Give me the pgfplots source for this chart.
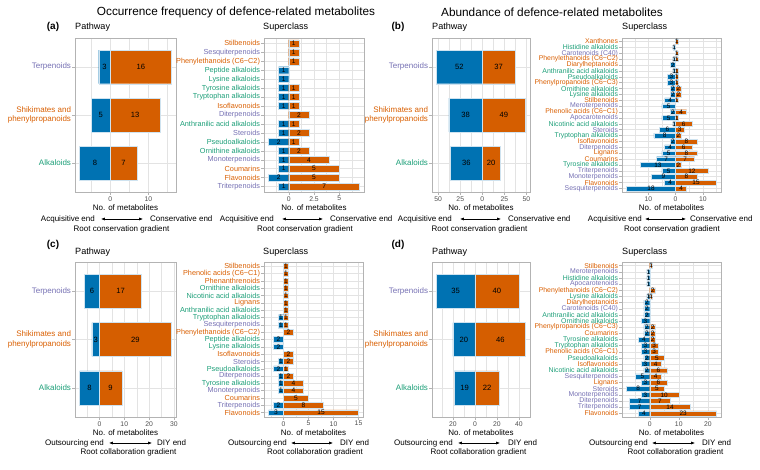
\documentclass[border=0pt]{standalone}
\usepackage{fontspec}
\setmainfont{Liberation Sans}
\usepackage{pgfplots}
\pgfplotsset{compat=1.18}
\usepackage{pgfplotstable}
\usetikzlibrary{arrows.meta}

\definecolor{cblue}{HTML}{0072B2}
\definecolor{corange}{HTML}{D55E00}
\definecolor{cP}{HTML}{7570B3}
\definecolor{cG}{HTML}{1B9E77}
\definecolor{cO}{HTML}{D95F02}
\definecolor{gr70}{HTML}{B3B3B3}
\definecolor{gr87}{HTML}{E3E3E3}
\definecolor{gr30}{HTML}{4D4D4D}
\definecolor{outl}{HTML}{CFE3F0}

\newcommand{\LP}[1]{\textcolor{cP}{#1}}
\newcommand{\LG}[1]{\textcolor{cG}{#1}}
\newcommand{\LO}[1]{\textcolor{cO}{#1}}

% Pathway tables
\pgfplotstableread{
y neg pos
1 3 16
2 5 13
3 8 7
}\tAP
\pgfplotstableread{
y neg pos
1 52 37
2 38 49
3 36 20
}\tBP
\pgfplotstableread{
y neg pos
1 6 17
2 3 29
3 8 9
}\tCP
\pgfplotstableread{
y neg pos
1 35 40
2 20 46
3 19 22
}\tDP

% Superclass tables
\pgfplotstableread{
y neg pos
1 0 1
2 0 1
3 0 1
4 1 0
5 1 0
6 1 1
7 1 1
8 1 1
9 0 2
10 1 1
11 1 2
12 2 1
13 1 2
14 1 4
15 1 5
16 2 5
17 1 7
}\tAS
\pgfplotstableread{
y neg pos
1 0 1
2 1 0
3 0 1
4 1 1
5 2 0
6 1 1
7 3 1
8 3 1
9 2 2
10 2 2
11 4 1
12 5 0
13 2 4
14 5 1
15 1 6
16 6 3
17 8 2
18 2 8
19 4 6
20 5 8
21 7 7
22 13 2
23 5 12
24 9 8
25 4 15
26 18 4
}\tBS
\pgfplotstableread{
y neg pos
1 0 1
2 0 1
3 0 1
4 0 1
5 0 1
6 0 1
7 0 1
8 1 1
9 1 1
10 0 2
11 2 0
12 2 0
13 0 2
14 1 2
15 2 1
16 1 2
17 1 4
18 1 4
19 0 5
20 2 8
21 3 15
}\tCS
\pgfplotstableread{
y neg pos
1 0 1
2 1 0
3 1 0
4 1 0
5 0 2
6 1 1
7 2 0
8 2 0
9 2 0
10 3 0
11 2 2
12 2 2
13 4 2
14 3 3
15 3 3
16 2 5
17 3 4
18 2 6
19 5 4
20 3 6
21 8 5
22 3 10
23 7 7
24 7 14
25 4 23
}\tDS

\pgfplotsset{
  base/.style={
    scale only axis, anchor=north west,
    y dir=reverse,
    axis line style={draw=gr70, line width=0.5pt},
    tick style={draw=gr70, line width=0.45pt},
    major tick length=2.6pt, minor tick length=0pt,
    tick align=outside, tick pos=left,
    xmajorgrids, xminorgrids, ymajorgrids,
    major grid style={draw=gr87, line width=0.5pt},
    minor grid style={draw=gr87, line width=0.3pt},
    xticklabel style={font=\fontsize{6.8}{7.5}\selectfont, text=gr30, inner sep=1.5pt},
    yticklabel style={inner sep=1.2pt},
    /pgf/number format/assume math mode=true,
    xlabel={No. of metabolites},
    xlabel style={font=\fontsize{8}{9.5}\selectfont, text=black, inner sep=1.5pt},
  },
  pathway/.style={base, ymin=0.4, ymax=3.6, ytick={1,2,3},
    yticklabels={\LP{Terpenoids},{\color{cO}Shikimates and\\\color{cO}phenylpropanoids},\LG{Alkaloids}},
    yticklabel style={font=\fontsize{8}{9.8}\selectfont, align=right}},
  superclass/.style={base,
    yticklabel style={font=\fontsize{7.3}{8}\selectfont}},
  superclassdense/.style={base,
    yticklabel style={font=\fontsize{6.9}{7.5}\selectfont}},
}

\newcommand{\panelbars}[3]{%
  \addplot[xbar, bar width=#2, bar shift=0pt, fill=cblue, draw=outl, line width=0.4pt,
    restrict x to domain=-1000:-0.001] table[x expr=-\thisrow{neg}, y=y] {#1};
  \addplot[xbar, bar width=#2, bar shift=0pt, fill=corange, draw=outl, line width=0.4pt,
    restrict x to domain=0.001:1000] table[x=pos, y=y] {#1};
  \addplot[only marks, mark=*, mark size=0pt, mark options={draw=none,fill=none},
    point meta=explicit, nodes near coords,
    every node near coord/.append style={font=\fontsize{#3}{#3}\selectfont, anchor=center, inner sep=0pt, text=black},
    restrict x to domain=-1000:-0.001] table[x expr=-\thisrow{neg}/2, y=y, meta=neg] {#1};
  \addplot[only marks, mark=*, mark size=0pt, mark options={draw=none,fill=none},
    point meta=explicit, nodes near coords,
    every node near coord/.append style={font=\fontsize{#3}{#3}\selectfont, anchor=center, inner sep=0pt, text=black},
    restrict x to domain=0.001:1000] table[x expr=\thisrow{pos}/2, y=y, meta=pos] {#1};
}

\newcommand{\gradient}[7]{% y-line, x-east, x1, x2, x-west, left text, right text
  \node[anchor=east, inner sep=0pt, font=\fontsize{8}{9.5}\selectfont] at (#2,#1) {#6};
  \draw[line width=0.6pt, {Latex[length=3.8pt,width=3pt]}-{Latex[length=3.8pt,width=3pt]}] (#3,#1) -- (#4,#1);
  \node[anchor=west, inner sep=0pt, font=\fontsize{8}{9.5}\selectfont] at (#5,#1) {#7};
}

\begin{document}
\begin{tikzpicture}[x=1pt,y=1pt]
\path[use as bounding box] (0,0) rectangle (760,470);

% Titles
\node[font=\fontsize{11.8}{13}\selectfont] at (236,458) {Occurrence frequency of defence-related metabolites};
\node[font=\fontsize{11.8}{13}\selectfont] at (552,458) {Abundance of defence-related metabolites};

\node[font=\fontsize{10}{12}\selectfont\bfseries] at (53,443) {(a)};
\node[font=\fontsize{10}{12}\selectfont\bfseries] at (398,443) {(b)};
\node[font=\fontsize{10}{12}\selectfont\bfseries] at (53,225) {(c)};
\node[font=\fontsize{10}{12}\selectfont\bfseries] at (398,225) {(d)};

\foreach \xx/\yy/\txt in {75/443/Pathway, 263/443/Superclass, 432/443/Pathway, 622/443/Superclass,
                          75/218/Pathway, 263/218/Superclass, 432/218/Pathway, 622/218/Superclass}{
  \node[anchor=west, inner sep=0pt, font=\fontsize{9.1}{11}\selectfont] at (\xx,\yy) {\txt};
}

% ---------- (a) Pathway
\begin{axis}[pathway, at={(75pt,432pt)}, width=101pt, height=154pt,
  xmin=-9.2, xmax=17.2, xtick={0,10}, minor xtick={-5,5,15}]
\panelbars{\tAP}{0.7}{7.6}
\end{axis}

% ---------- (a) Superclass
\begin{axis}[superclass, at={(264pt,432pt)}, width=100pt, height=154pt,
  xmin=-2.45, xmax=7.45, ymin=0.4, ymax=17.6,
  xtick={0,2.5,5}, xticklabels={0,2.5,5}, minor xtick={-1.25,1.25,3.75,6.25},
  ytick={1,...,17},
  yticklabels={\LO{Stilbenoids},\LP{Sesquiterpenoids},\LO{Phenylethanoids (C6−C2)},\LG{Peptide alkaloids},\LG{Lysine alkaloids},\LG{Tyrosine alkaloids},\LG{Tryptophan alkaloids},\LO{Isoflavonoids},\LP{Diterpenoids},\LG{Anthranilic acid alkaloids},\LP{Steroids},\LG{Pseudoalkaloids},\LG{Ornithine alkaloids},\LP{Monoterpenoids},\LO{Coumarins},\LO{Flavonoids},\LP{Triterpenoids}}]
\panelbars{\tAS}{0.78}{6.6}
\end{axis}

% ---------- (b) Pathway
\begin{axis}[pathway, at={(432pt,432pt)}, width=98pt, height=154pt,
  xmin=-57.05, xmax=54.05, xtick={-50,-25,0,25,50}, xticklabels={50,25,0,25,50},
  minor xtick={-37.5,-12.5,12.5,37.5}]
\panelbars{\tBP}{0.7}{7.6}
\end{axis}

% ---------- (b) Superclass
\begin{axis}[superclassdense, at={(622pt,432pt)}, width=99pt, height=154pt,
  xmin=-19.65, xmax=16.65, ymin=0.4, ymax=26.6,
  xtick={-10,0,10}, xticklabels={10,0,10}, minor xtick={-15,-5,5,15},
  ytick={1,...,26},
  yticklabels={\LO{Xanthones},\LG{Histidine alkaloids},\LP{Carotenoids (C40)},\LO{Phenylethanoids (C6−C2)},\LO{Diarylheptanoids},\LG{Anthranilic acid alkaloids},\LG{Pseudoalkaloids},\LO{Phenylpropanoids (C6−C3)},\LG{Ornithine alkaloids},\LG{Lysine alkaloids},\LO{Stilbenoids},\LP{Meroterpenoids},\LO{Phenolic acids (C6−C1)},\LP{Apocarotenoids},\LG{Nicotinic acid alkaloids},\LP{Steroids},\LG{Tryptophan alkaloids},\LO{Isoflavonoids},\LP{Diterpenoids},\LO{Lignans},\LO{Coumarins},\LG{Tyrosine alkaloids},\LP{Triterpenoids},\LP{Monoterpenoids},\LO{Flavonoids},\LP{Sesquiterpenoids}}]
\panelbars{\tBS}{0.8}{6.4}
\end{axis}

% ---------- (c) Pathway
\begin{axis}[pathway, at={(75pt,208pt)}, width=101pt, height=155pt,
  xmin=-9.85, xmax=30.85, xtick={0,10,20,30}, minor xtick={-5,5,15,25}]
\panelbars{\tCP}{0.7}{7.6}
\end{axis}

% ---------- (c) Superclass
\begin{axis}[superclass, at={(264pt,208pt)}, width=99pt, height=155pt,
  xmin=-3.9, xmax=15.9, ymin=0.4, ymax=21.6,
  xtick={0,5,10,15}, minor xtick={-2.5,2.5,7.5,12.5},
  ytick={1,...,21},
  yticklabels={\LO{Stilbenoids},\LO{Phenolic acids (C6−C1)},\LO{Phenanthrenoids},\LG{Ornithine alkaloids},\LG{Nicotinic acid alkaloids},\LO{Lignans},\LG{Anthranilic acid alkaloids},\LG{Tryptophan alkaloids},\LP{Sesquiterpenoids},\LO{Phenylethanoids (C6−C2)},\LG{Peptide alkaloids},\LG{Lysine alkaloids},\LO{Isoflavonoids},\LP{Steroids},\LG{Pseudoalkaloids},\LP{Diterpenoids},\LG{Tyrosine alkaloids},\LP{Monoterpenoids},\LO{Coumarins},\LP{Triterpenoids},\LO{Flavonoids}}]
\panelbars{\tCS}{0.78}{6.6}
\end{axis}

% ---------- (d) Pathway
\begin{axis}[pathway, at={(432pt,208pt)}, width=98pt, height=155pt,
  xmin=-39.05, xmax=50.05, xtick={-20,0,20,40}, xticklabels={20,0,20,40},
  minor xtick={-30,-10,10,30}]
\panelbars{\tDP}{0.7}{7.6}
\end{axis}

% ---------- (d) Superclass
\begin{axis}[superclassdense, at={(622pt,208pt)}, width=99pt, height=155pt,
  xmin=-9.55, xmax=24.55, ymin=0.4, ymax=25.6,
  xtick={0,10,20}, minor xtick={-5,5,15},
  ytick={1,...,25},
  yticklabels={\LO{Stilbenoids},\LP{Meroterpenoids},\LG{Histidine alkaloids},\LP{Apocarotenoids},\LO{Phenylethanoids (C6−C2)},\LG{Lysine alkaloids},\LO{Diarylheptanoids},\LP{Carotenoids (C40)},\LG{Anthranilic acid alkaloids},\LG{Ornithine alkaloids},\LO{Phenylpropanoids (C6−C3)},\LO{Coumarins},\LG{Tyrosine alkaloids},\LG{Tryptophan alkaloids},\LO{Phenolic acids (C6−C1)},\LG{Pseudoalkaloids},\LO{Isoflavonoids},\LG{Nicotinic acid alkaloids},\LP{Sesquiterpenoids},\LO{Lignans},\LP{Steroids},\LP{Monoterpenoids},\LP{Diterpenoids},\LP{Triterpenoids},\LO{Flavonoids}}]
\panelbars{\tDS}{0.8}{6.4}
\end{axis}

% ---------- gradient annotations
\gradient{251}{95}{101}{143}{150}{Acquisitive end}{Conservative end}
\node[font=\fontsize{8}{9.5}\selectfont] at (121.5,241) {Root conservation gradient};
\gradient{251}{274}{282}{323}{330}{Acquisitive end}{Conservative end}
\node[font=\fontsize{8}{9.5}\selectfont] at (305,241) {Root conservation gradient};
\gradient{251}{452}{460}{501}{508}{Acquisitive end}{Conservative end}
\node[font=\fontsize{8}{9.5}\selectfont] at (479.5,241) {Root conservation gradient};
\gradient{251}{642}{645}{686}{690}{Acquisitive end}{Conservative end}
\node[font=\fontsize{8}{9.5}\selectfont] at (672,241) {Root conservation gradient};

\gradient{27}{104}{109}{152}{157}{Outsourcing end}{DIY end}
\node[font=\fontsize{8}{9.5}\selectfont] at (128.5,18) {Root collaboration gradient};
\gradient{27}{287}{291}{333}{340}{Outsourcing end}{DIY end}
\node[font=\fontsize{8}{9.5}\selectfont] at (315,18) {Root collaboration gradient};
\gradient{27}{453}{458}{500}{508}{Outsourcing end}{DIY end}
\node[font=\fontsize{8}{9.5}\selectfont] at (478.5,18) {Root collaboration gradient};
\gradient{27}{648}{652}{695}{702}{Outsourcing end}{DIY end}
\node[font=\fontsize{8}{9.5}\selectfont] at (675.5,18) {Root collaboration gradient};

\end{tikzpicture}
\end{document}
